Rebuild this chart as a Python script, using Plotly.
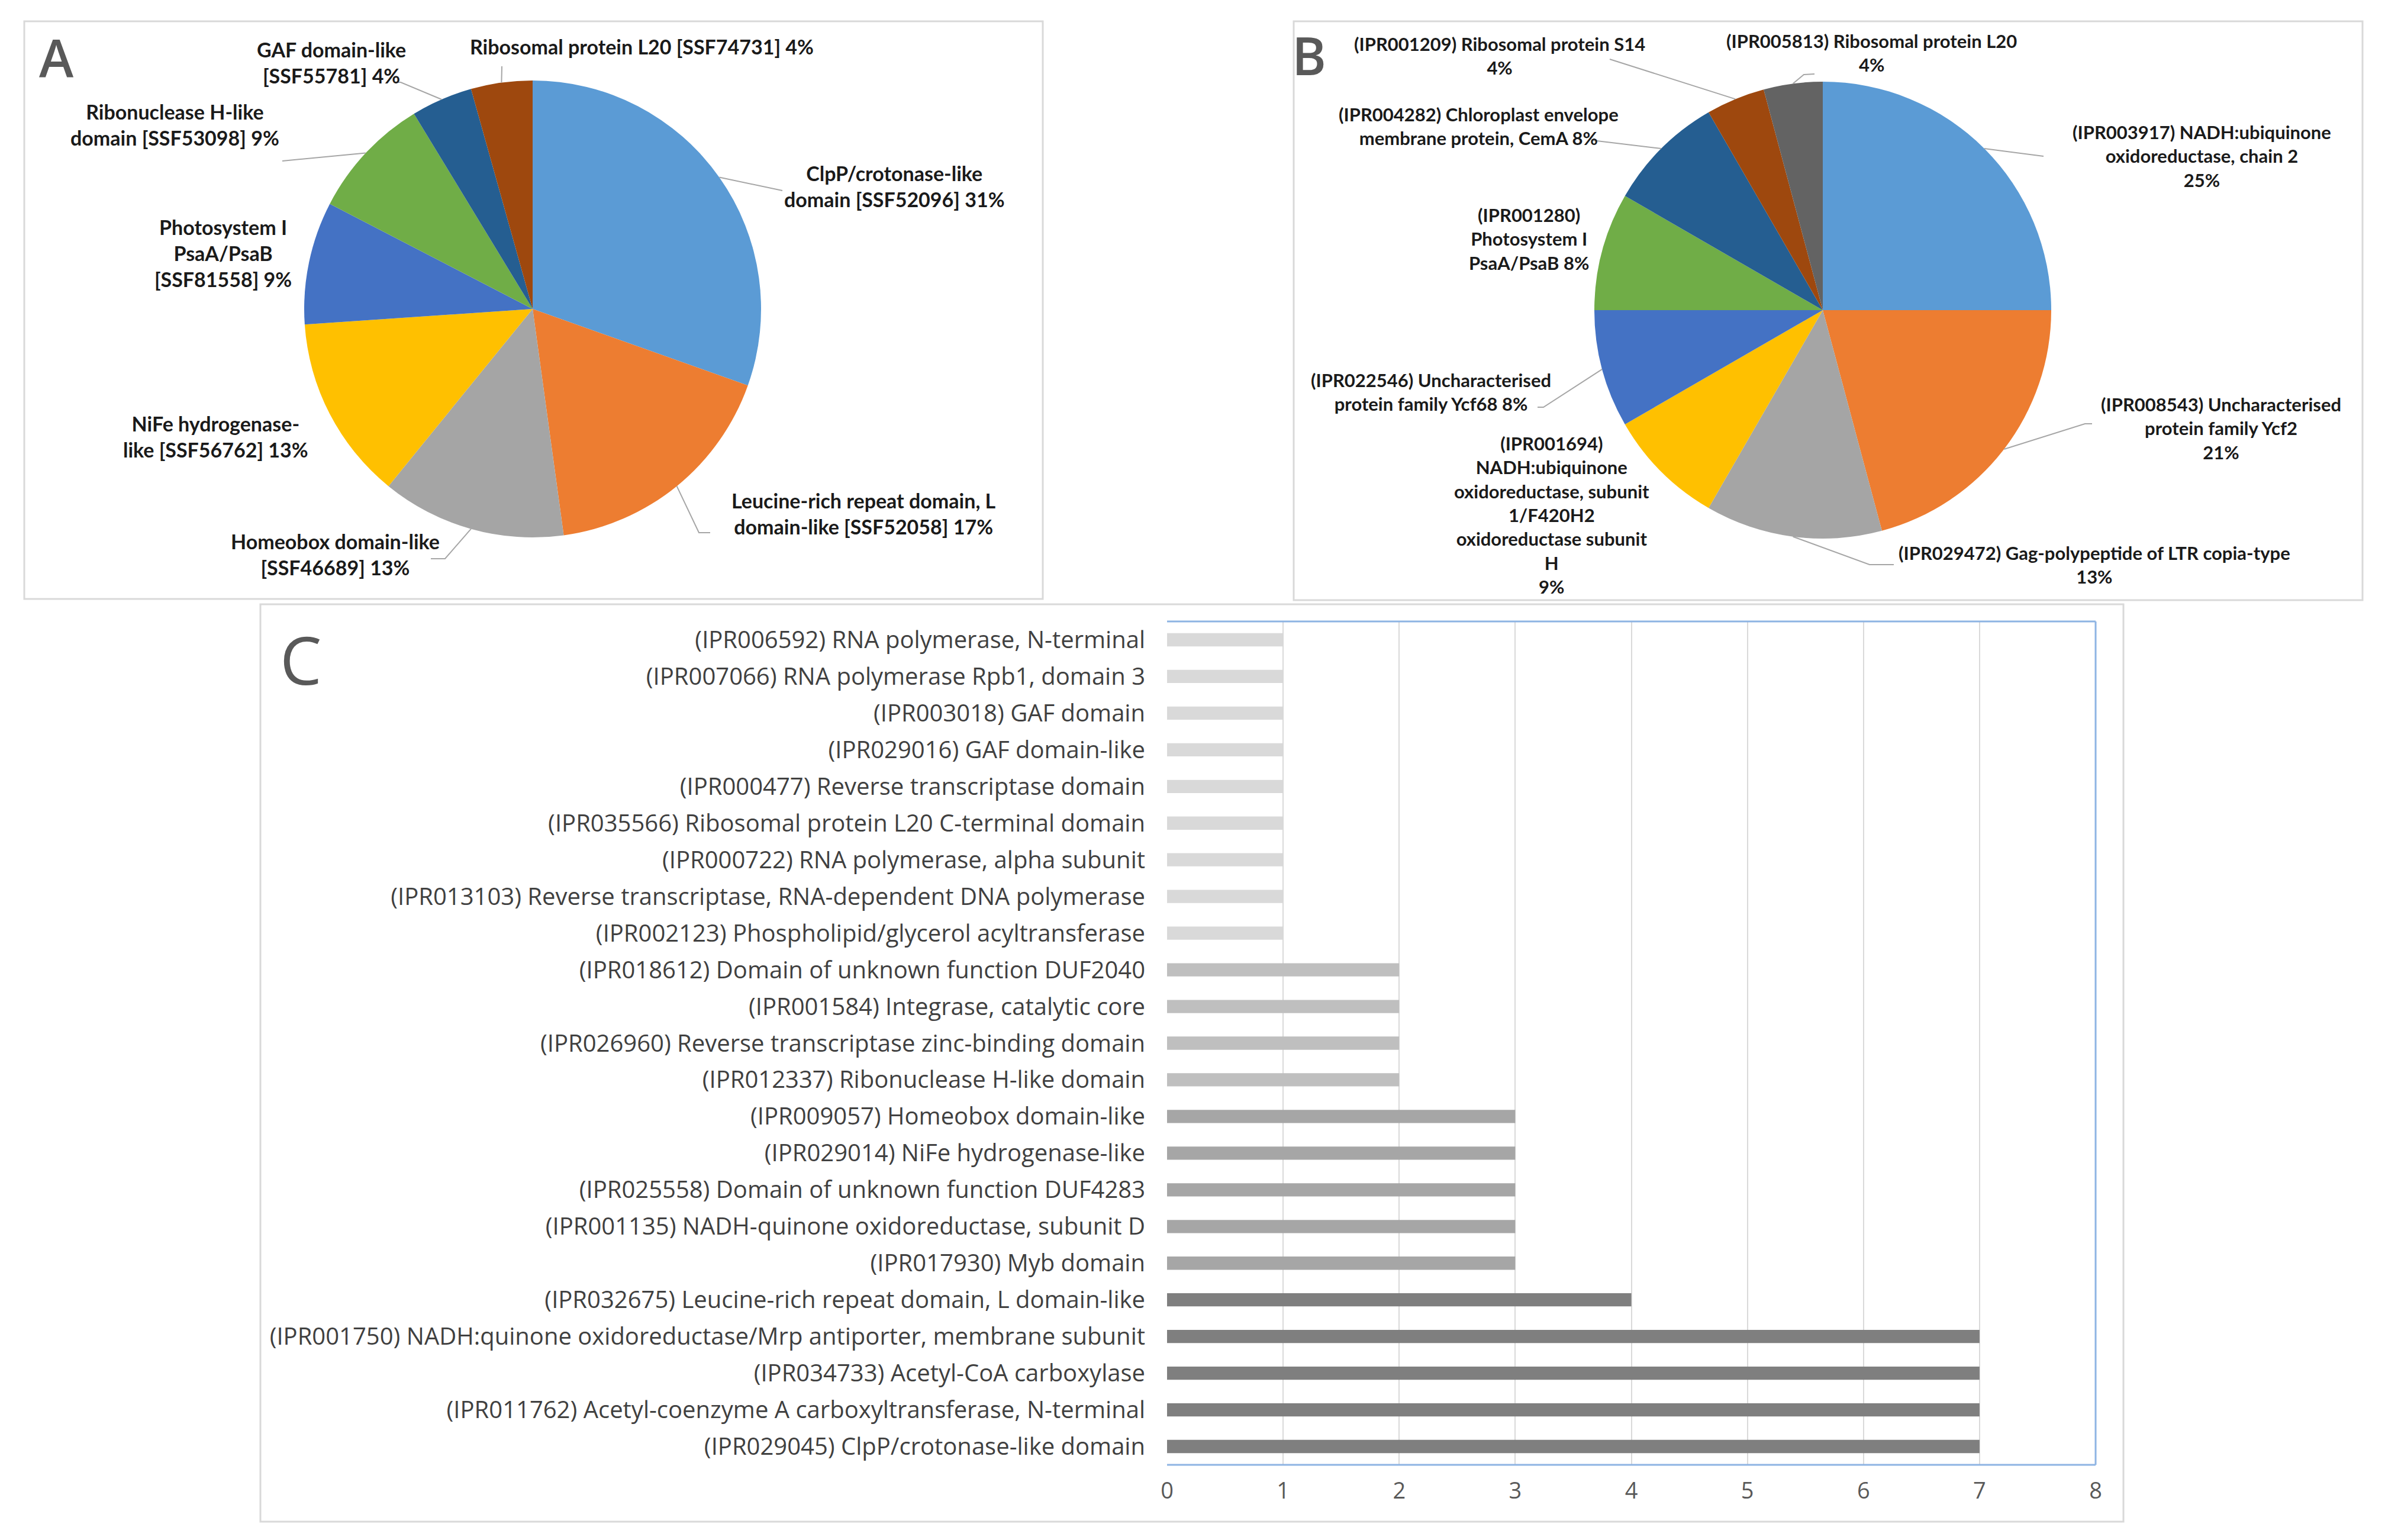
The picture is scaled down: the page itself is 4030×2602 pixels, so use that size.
import math
import plotly.graph_objects as go

W, H = 4030, 2602

# ---------------- data ----------------
# Panel A: SUPERFAMILY domains (counts, clockwise from 12 o'clock)
a_names = ["ClpP/crotonase-like domain [SSF52096]",
           "Leucine-rich repeat domain, L domain-like [SSF52058]",
           "Homeobox domain-like [SSF46689]",
           "NiFe hydrogenase-like [SSF56762]",
           "Photosystem I PsaA/PsaB [SSF81558]",
           "Ribonuclease H-like domain [SSF53098]",
           "GAF domain-like [SSF55781]",
           "Ribosomal protein L20 [SSF74731]"]
a_counts = [7, 4, 3, 3, 2, 2, 1, 1]
a_text = ["ClpP/crotonase-like<br>domain [SSF52096] 31%",
          "Leucine-rich repeat domain, L<br>domain-like [SSF52058] 17%",
          "Homeobox domain-like<br>[SSF46689] 13%",
          "NiFe hydrogenase-<br>like [SSF56762] 13%",
          "Photosystem I<br>PsaA/PsaB<br>[SSF81558] 9%",
          "Ribonuclease H-like<br>domain [SSF53098] 9%",
          "GAF domain-like<br>[SSF55781] 4%",
          "Ribosomal protein L20 [SSF74731] 4%"]

# Panel B: InterPro families (counts, clockwise from 12 o'clock)
b_names = ["(IPR003917) NADH:ubiquinone oxidoreductase, chain 2",
           "(IPR008543) Uncharacterised protein family Ycf2",
           "(IPR029472) Gag-polypeptide of LTR copia-type",
           "(IPR001694) NADH:ubiquinone oxidoreductase, subunit 1/F420H2 oxidoreductase subunit H",
           "(IPR022546) Uncharacterised protein family Ycf68",
           "(IPR001280) Photosystem I PsaA/PsaB",
           "(IPR004282) Chloroplast envelope membrane protein, CemA",
           "(IPR001209) Ribosomal protein S14",
           "(IPR005813) Ribosomal protein L20"]
b_counts = [6, 5, 3, 2, 2, 2, 2, 1, 1]
b_text = ["(IPR003917) NADH:ubiquinone<br>oxidoreductase, chain 2<br>25%",
          "(IPR008543) Uncharacterised<br>protein family Ycf2<br>21%",
          "(IPR029472) Gag-polypeptide of LTR copia-type<br>13%",
          "(IPR001694)<br>NADH:ubiquinone<br>oxidoreductase, subunit<br>1/F420H2<br>oxidoreductase subunit<br>H<br>9%",
          "(IPR022546) Uncharacterised<br>protein family Ycf68 8%",
          "(IPR001280)<br>Photosystem I<br>PsaA/PsaB 8%",
          "(IPR004282) Chloroplast envelope<br>membrane protein, CemA 8%",
          "(IPR001209) Ribosomal protein S14<br>4%",
          "(IPR005813) Ribosomal protein L20<br>4%"]

# Panel C: InterPro entries (top to bottom)
c_labels = ["(IPR006592) RNA polymerase, N-terminal",
            "(IPR007066) RNA polymerase Rpb1, domain 3",
            "(IPR003018) GAF domain",
            "(IPR029016) GAF domain-like",
            "(IPR000477) Reverse transcriptase domain",
            "(IPR035566) Ribosomal protein L20 C-terminal domain",
            "(IPR000722) RNA polymerase, alpha subunit",
            "(IPR013103) Reverse transcriptase, RNA-dependent DNA polymerase",
            "(IPR002123) Phospholipid/glycerol acyltransferase",
            "(IPR018612) Domain of unknown function DUF2040",
            "(IPR001584) Integrase, catalytic core",
            "(IPR026960) Reverse transcriptase zinc-binding domain",
            "(IPR012337) Ribonuclease H-like domain",
            "(IPR009057) Homeobox domain-like",
            "(IPR029014) NiFe hydrogenase-like",
            "(IPR025558) Domain of unknown function DUF4283",
            "(IPR001135) NADH-quinone oxidoreductase, subunit D",
            "(IPR017930) Myb domain",
            "(IPR032675) Leucine-rich repeat domain, L domain-like",
            "(IPR001750) NADH:quinone oxidoreductase/Mrp antiporter, membrane subunit",
            "(IPR034733) Acetyl-CoA carboxylase",
            "(IPR011762) Acetyl-coenzyme A carboxyltransferase, N-terminal",
            "(IPR029045) ClpP/crotonase-like domain"]
c_values = [1, 1, 1, 1, 1, 1, 1, 1, 1, 2, 2, 2, 2, 3, 3, 3, 3, 3, 4, 7, 7, 7, 7]
x_ticks = [0, 1, 2, 3, 4, 5, 6, 7, 8]

# ---------------- styles / layout ----------------
office = ["#5B9BD5", "#ED7D31", "#A5A5A5", "#FFC000", "#4472C4",
          "#70AD47", "#255E91", "#9E480E", "#636363"]
bar_shade = {1: "#D9D9D9", 2: "#BFBFBF", 3: "#A6A6A6", 4: "#7F7F7F", 7: "#7F7F7F"}


def X(px):
    return px / W


def Y(py):
    return 1 - py / H


A_C, B_C, R = (900, 522), (3080, 524), 386

fig = go.Figure()

fig.add_trace(go.Pie(values=a_counts, labels=a_names, sort=False, direction="clockwise",
                     rotation=0, textinfo="none", showlegend=False, hoverinfo="label+percent",
                     marker=dict(colors=office[:len(a_counts)], line=dict(width=0)),
                     domain=dict(x=[X(A_C[0] - R), X(A_C[0] + R)], y=[Y(A_C[1] + R), Y(A_C[1] - R)])))
fig.add_trace(go.Pie(values=b_counts, labels=b_names, sort=False, direction="clockwise",
                     rotation=0, textinfo="none", showlegend=False, hoverinfo="label+percent",
                     marker=dict(colors=office[:len(b_counts)], line=dict(width=0)),
                     domain=dict(x=[X(B_C[0] - R), X(B_C[0] + R)], y=[Y(B_C[1] + R), Y(B_C[1] - R)])))

fig.add_trace(go.Bar(x=c_values, y=c_labels, orientation="h", width=0.36,
                     marker=dict(color=[bar_shade[v] for v in c_values], line=dict(width=0)),
                     showlegend=False, xaxis="x", yaxis="y"))

PX0, PX1, PY0, PY1 = 1972, 3541, 1050, 2475

shapes = []
# panel boxes
for (x0, y0, x1, y1) in [(41, 36, 1762, 1012), (2186, 36, 3992, 1014), (440, 1021, 3588, 2571)]:
    shapes.append(dict(type="rect", xref="paper", yref="paper", x0=X(x0), x1=X(x1), y0=Y(y1), y1=Y(y0),
                       line=dict(color="#D9D9D9", width=3), fillcolor="rgba(0,0,0,0)", layer="below"))
# plot frame (blue top/right/bottom)
for (x0, y0, x1, y1) in [(0, 1, 1, 1), (1, 0, 1, 1), (0, 0, 1, 0)]:
    shapes.append(dict(type="line", xref="x domain", yref="y domain", x0=x0, x1=x1, y0=y0, y1=y1,
                       line=dict(color="#8EB4E3", width=3), layer="above"))


def edge_points(counts, center):
    tot = float(sum(counts))
    pts, cum = [], 0.0
    for c in counts:
        mid = (cum + c / 2.0) / tot
        ang = 2 * math.pi * mid
        pts.append((center[0] + R * math.sin(ang), center[1] - R * math.cos(ang)))
        cum += c
    return pts


def leader(p0, rest):
    pts = [p0] + rest
    path = "M " + " L ".join("%.5f,%.5f" % (X(px), Y(py)) for px, py in pts)
    return dict(type="path", xref="paper", yref="paper", path=path,
                line=dict(color="#A6A6A6", width=2))


a_edges = edge_points(a_counts, A_C)
b_edges = edge_points(b_counts, B_C)

a_lead = {0: [(1322, 322)], 1: [(1181, 900), (1200, 900)], 2: [(752, 944), (728, 944)],
          5: [(477, 272)], 6: [(677, 139), (667, 139)], 7: [(848, 112)]}
b_lead = {0: [(3453, 264)], 1: [(3523, 716), (3535, 716)], 2: [(3159, 954), (3200, 954)],
          4: [(2608, 688), (2598, 688)], 6: [(2690, 237)], 7: [(2720, 100)],
          8: [(3048, 126), (3066, 125)]}
for i, rest in a_lead.items():
    shapes.append(leader(a_edges[i], rest))
for i, rest in b_lead.items():
    shapes.append(leader(b_edges[i], rest))

annotations = []
a_pos = [(1511, 314), (1459, 867), (566, 936), (364, 737), (377, 427), (295, 210), (560, 105), (1084, 78)]
b_pos = [(3720, 264), (3753, 723), (3539, 954), (2622, 870), (2418, 662), (2583, 404),
         (2498, 213), (2534, 94), (3162, 89)]
fa = dict(family="Lato, 'Open Sans', sans-serif", size=34, color="#1a1a1a", weight=700)
fb = dict(family="Lato, 'Open Sans', sans-serif", size=31, color="#1a1a1a", weight=700)
for t, (px, py) in zip(a_text, a_pos):
    annotations.append(dict(text=t, x=X(px), y=Y(py), xref="paper", yref="paper", showarrow=False,
                            xanchor="center", yanchor="middle", align="center", font=fa))
for t, (px, py) in zip(b_text, b_pos):
    annotations.append(dict(text=t, x=X(px), y=Y(py), xref="paper", yref="paper", showarrow=False,
                            xanchor="center", yanchor="middle", align="center", font=fb))

for letter, (px, py, sz, wt) in {"A": (95, 97, 88, 600), "B": (2212, 93, 88, 600),
                                 "C": (508, 1113, 112, 400)}.items():
    annotations.append(dict(text=letter, x=X(px), y=Y(py), xref="paper", yref="paper", showarrow=False,
                            xanchor="center", yanchor="middle",
                            font=dict(family="'Open Sans', sans-serif", size=sz, color="#595959",
                                      weight=wt)))

fig.update_layout(
    template="none",
    width=W, height=H,
    margin=dict(l=0, r=0, t=0, b=0),
    paper_bgcolor="white", plot_bgcolor="white",
    xaxis=dict(domain=[X(PX0), X(PX1)], range=[0, 8], tickvals=x_ticks, showgrid=True,
               gridcolor="#D9D9D9", gridwidth=2, zeroline=False, showline=False, ticks="",
               tickfont=dict(family="'Open Sans', sans-serif", size=38, color="#595959"),
               ticklabelstandoff=18, automargin=False, anchor="y", fixedrange=True),
    yaxis=dict(domain=[Y(PY1), Y(PY0)], autorange="reversed", showgrid=False, zeroline=False,
               showline=False, ticks="", type="category",
               tickfont=dict(family="'Open Sans', sans-serif", size=40, color="#404040"),
               ticklabelstandoff=36, automargin=False, anchor="x", fixedrange=True),
    shapes=shapes,
    annotations=annotations,
)

fig.write_html("out.html", config={"displayModeBar": False},
               post_script="document.body.style.margin='0px';document.body.style.overflow='hidden';")
